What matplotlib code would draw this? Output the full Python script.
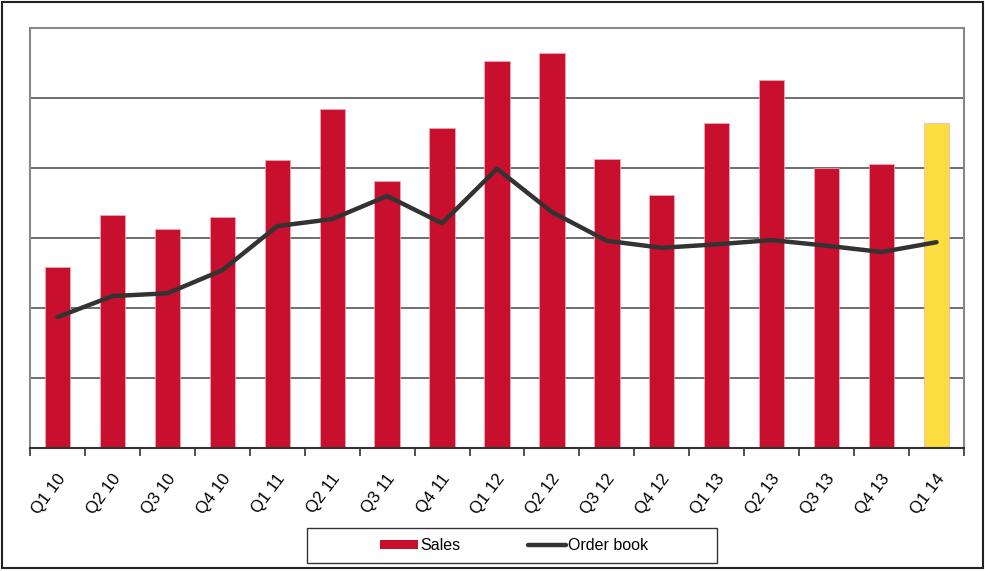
import matplotlib.pyplot as plt
from matplotlib.lines import Line2D
from matplotlib.patches import Patch, Rectangle
import numpy as np

plt.rcParams['font.family'] = ['Liberation Sans', 'DejaVu Sans']

quarters = ["Q1 10", "Q2 10", "Q3 10", "Q4 10", "Q1 11", "Q2 11", "Q3 11", "Q4 11",
            "Q1 12", "Q2 12", "Q3 12", "Q4 12", "Q1 13", "Q2 13", "Q3 13", "Q4 13", "Q1 14"]
sales = [2.59, 3.33, 3.13, 3.30, 4.11, 4.84, 3.81, 4.57,
         5.53, 5.64, 4.13, 3.61, 4.64, 5.26, 4.00, 4.06, 4.64]
order_book = [1.87, 2.17, 2.21, 2.54, 3.17, 3.27, 3.60, 3.21,
              3.99, 3.37, 2.96, 2.86, 2.91, 2.97, 2.89, 2.80, 2.94]

RED = "#c8102e"
YELLOW = "#fbdd3f"
LINE = "#333333"

W, H = 985, 571
fig = plt.figure(figsize=(W / 100, H / 100), dpi=100)
ax = fig.add_axes([30 / W, 123 / H, 934 / W, 420 / H])

x = np.arange(len(quarters))
colors = [RED] * (len(quarters) - 1) + [YELLOW]
ax.bar(x, sales, width=0.46, color=colors, edgecolor="#f0b0b8", linewidth=0.5, zorder=2)
ax.plot(x, order_book, color=LINE, linewidth=3.2, solid_capstyle="round", zorder=3)

ax.set_xlim(-0.5, len(quarters) - 0.5)
ax.set_ylim(0, 6)
ax.set_yticks(np.arange(0, 7))
ax.set_yticklabels([])
ax.tick_params(axis="y", length=0)
ax.grid(axis="y", color="#555555", linewidth=1.2, zorder=1)

ax.set_xticks(x - 0.02)
ax.set_xticklabels(quarters, rotation=53, ha="right", rotation_mode="anchor", fontsize=12.2)
ax.tick_params(axis="x", which="major", length=0, pad=17)
ax.set_xticks(np.arange(-0.5, len(quarters)), minor=True)
ax.tick_params(axis="x", which="minor", length=6, width=1.2, color="#333333", direction="out")

for side in ["left", "top", "right"]:
    ax.spines[side].set_color("#888888")
    ax.spines[side].set_linewidth(1.5)
ax.spines["bottom"].set_color("#333333")
ax.spines["bottom"].set_linewidth(1.5)

# legend (frame drawn separately to match the wide reference box)
handles = [Patch(facecolor=RED, edgecolor="none"),
           Line2D([0], [0], color=LINE, linewidth=3.2, solid_capstyle="round")]
fig.legend(handles, ["Sales", "Order book"], loc="center",
           bbox_to_anchor=(514 / W, 1 - 545.5 / H), ncol=2, fontsize=11.5,
           frameon=False, handlelength=2.4, handletextpad=0.15, columnspacing=4.2,
           handleheight=0.45, borderaxespad=0, borderpad=0)
fig.patches.append(Rectangle((307 / W, 1 - 563 / H), 410 / W, 35 / H, transform=fig.transFigure,
                             fill=False, edgecolor="#333333", linewidth=1.0))

# outer chart frame
fig.patches.append(Rectangle((2 / W, 3 / H), 981 / W, 566 / H, transform=fig.transFigure,
                             fill=False, edgecolor="#222222", linewidth=1.5))

plt.savefig("out.png", dpi=100)
